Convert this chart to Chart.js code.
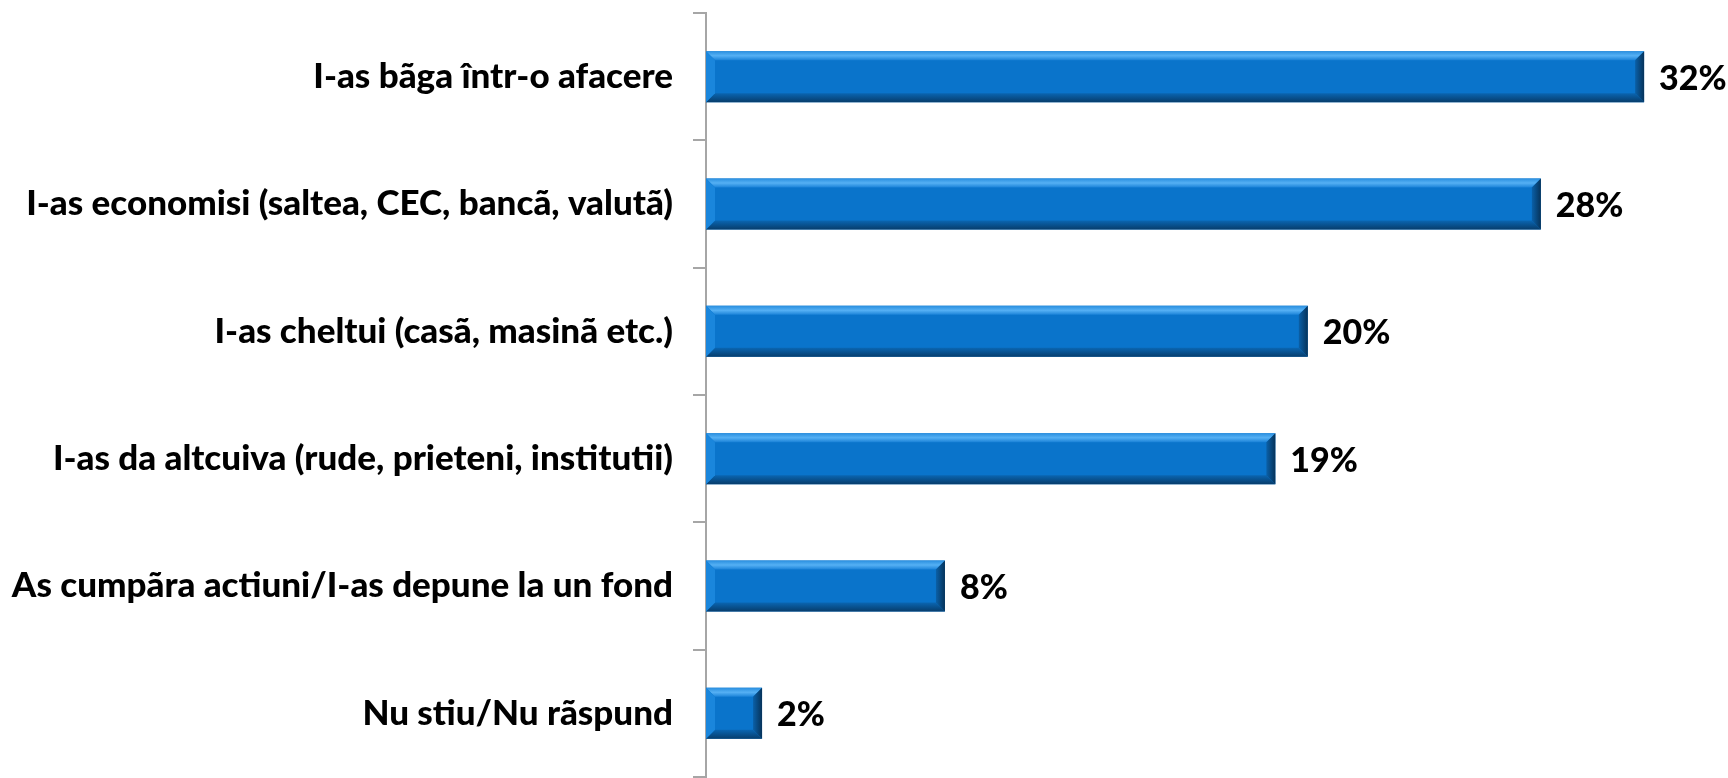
<!DOCTYPE html>
<html>
<head>
<meta charset="utf-8">
<script src="https://cdn.jsdelivr.net/npm/chart.js@4.4.0/dist/chart.umd.min.js"></script>
<style>
html,body{margin:0;padding:0;background:#fff;}
#wrap{width:1728px;height:778px;position:relative;}
</style>
</head>
<body>
<div id="wrap"><canvas id="c" width="1728" height="778"></canvas></div>
<script>
const categories = [
  "I-as bãga într-o afacere",
  "I-as economisi (saltea, CEC, bancã, valutã)",
  "I-as cheltui (casã, masinã etc.)",
  "I-as da altcuiva (rude, prieteni, institutii)",
  "As cumpãra actiuni/I-as depune la un fond",
  "Nu stiu/Nu rãspund"
];
const values = [31.8, 28.3, 20.4, 19.3, 8.1, 1.9];
const valueLabels = ["32%", "28%", "20%", "19%", "8%", "2%"];

const FONT = "Lato, 'Open Sans', sans-serif";

const bevelPlugin = {
  id: 'bevel',
  afterDatasetsDraw(chart) {
    const ctx = chart.ctx;
    const meta = chart.getDatasetMeta(0);
    meta.data.forEach((bar, i) => {
      const p = bar.getProps(['x','y','base','height'], true);
      const l = Math.min(p.base, p.x), r = Math.max(p.base, p.x);
      const t = p.y - p.height/2, b = p.y + p.height/2;
      const w = r - l, h = b - t;
      const bv = Math.min(9, w/3, h/3);
      ctx.save();
      let g = ctx.createLinearGradient(0, t, 0, t+bv);
      g.addColorStop(0, '#2a8fe0'); g.addColorStop(0.5, '#55b0f4'); g.addColorStop(1, '#1a82d8');
      ctx.fillStyle = g;
      ctx.beginPath(); ctx.moveTo(l,t); ctx.lineTo(r,t); ctx.lineTo(r-bv,t+bv); ctx.lineTo(l+bv,t+bv); ctx.closePath(); ctx.fill();
      g = ctx.createLinearGradient(0, b-bv, 0, b);
      g.addColorStop(0, '#0a66b2'); g.addColorStop(1, '#073d6c');
      ctx.fillStyle = g;
      ctx.beginPath(); ctx.moveTo(l,b); ctx.lineTo(r,b); ctx.lineTo(r-bv,b-bv); ctx.lineTo(l+bv,b-bv); ctx.closePath(); ctx.fill();
      ctx.fillStyle = '#1a86dc';
      ctx.beginPath(); ctx.moveTo(l,t); ctx.lineTo(l+bv,t+bv); ctx.lineTo(l+bv,b-bv); ctx.lineTo(l,b); ctx.closePath(); ctx.fill();
      g = ctx.createLinearGradient(r-bv, 0, r, 0);
      g.addColorStop(0, '#0a60a8'); g.addColorStop(1, '#06335a');
      ctx.fillStyle = g;
      ctx.beginPath(); ctx.moveTo(r,t); ctx.lineTo(r-bv,t+bv); ctx.lineTo(r-bv,b-bv); ctx.lineTo(r,b); ctx.closePath(); ctx.fill();
      ctx.fillStyle = '#000';
      ctx.font = "900 34px " + FONT;
      ctx.textAlign = 'left';
      ctx.textBaseline = 'middle';
      ctx.fillText(valueLabels[i], r + 15, p.y + 2);
      ctx.restore();
    });
  }
};

new Chart(document.getElementById('c'), {
  type: 'bar',
  data: {
    labels: categories,
    datasets: [{
      data: values,
      backgroundColor: '#0a74cb',
      borderWidth: 0,
      barPercentage: 0.8,
      categoryPercentage: 0.5
    }]
  },
  options: {
    indexAxis: 'y',
    responsive: false,
    animation: false,
    layout: { padding: { top: 13, bottom: 1, right: 19, left: 0 } },
    plugins: { legend: { display: false }, tooltip: { enabled: false } },
    scales: {
      x: { display: false, min: 0, max: 34 },
      y: {
        afterFit(scale) { scale.width = 706; scale.paddingTop = 0; scale.paddingBottom = 0; },
        border: { display: true, color: '#a6a6a6', width: 2 },
        grid: { drawOnChartArea: false, drawTicks: true, tickLength: 13, color: '#a6a6a6', lineWidth: 2, offset: true },
        ticks: { color: '#000', padding: 20, font: { family: FONT, size: 35, weight: 900 } }
      }
    }
  },
  plugins: [bevelPlugin]
});
</script>
</body>
</html>
